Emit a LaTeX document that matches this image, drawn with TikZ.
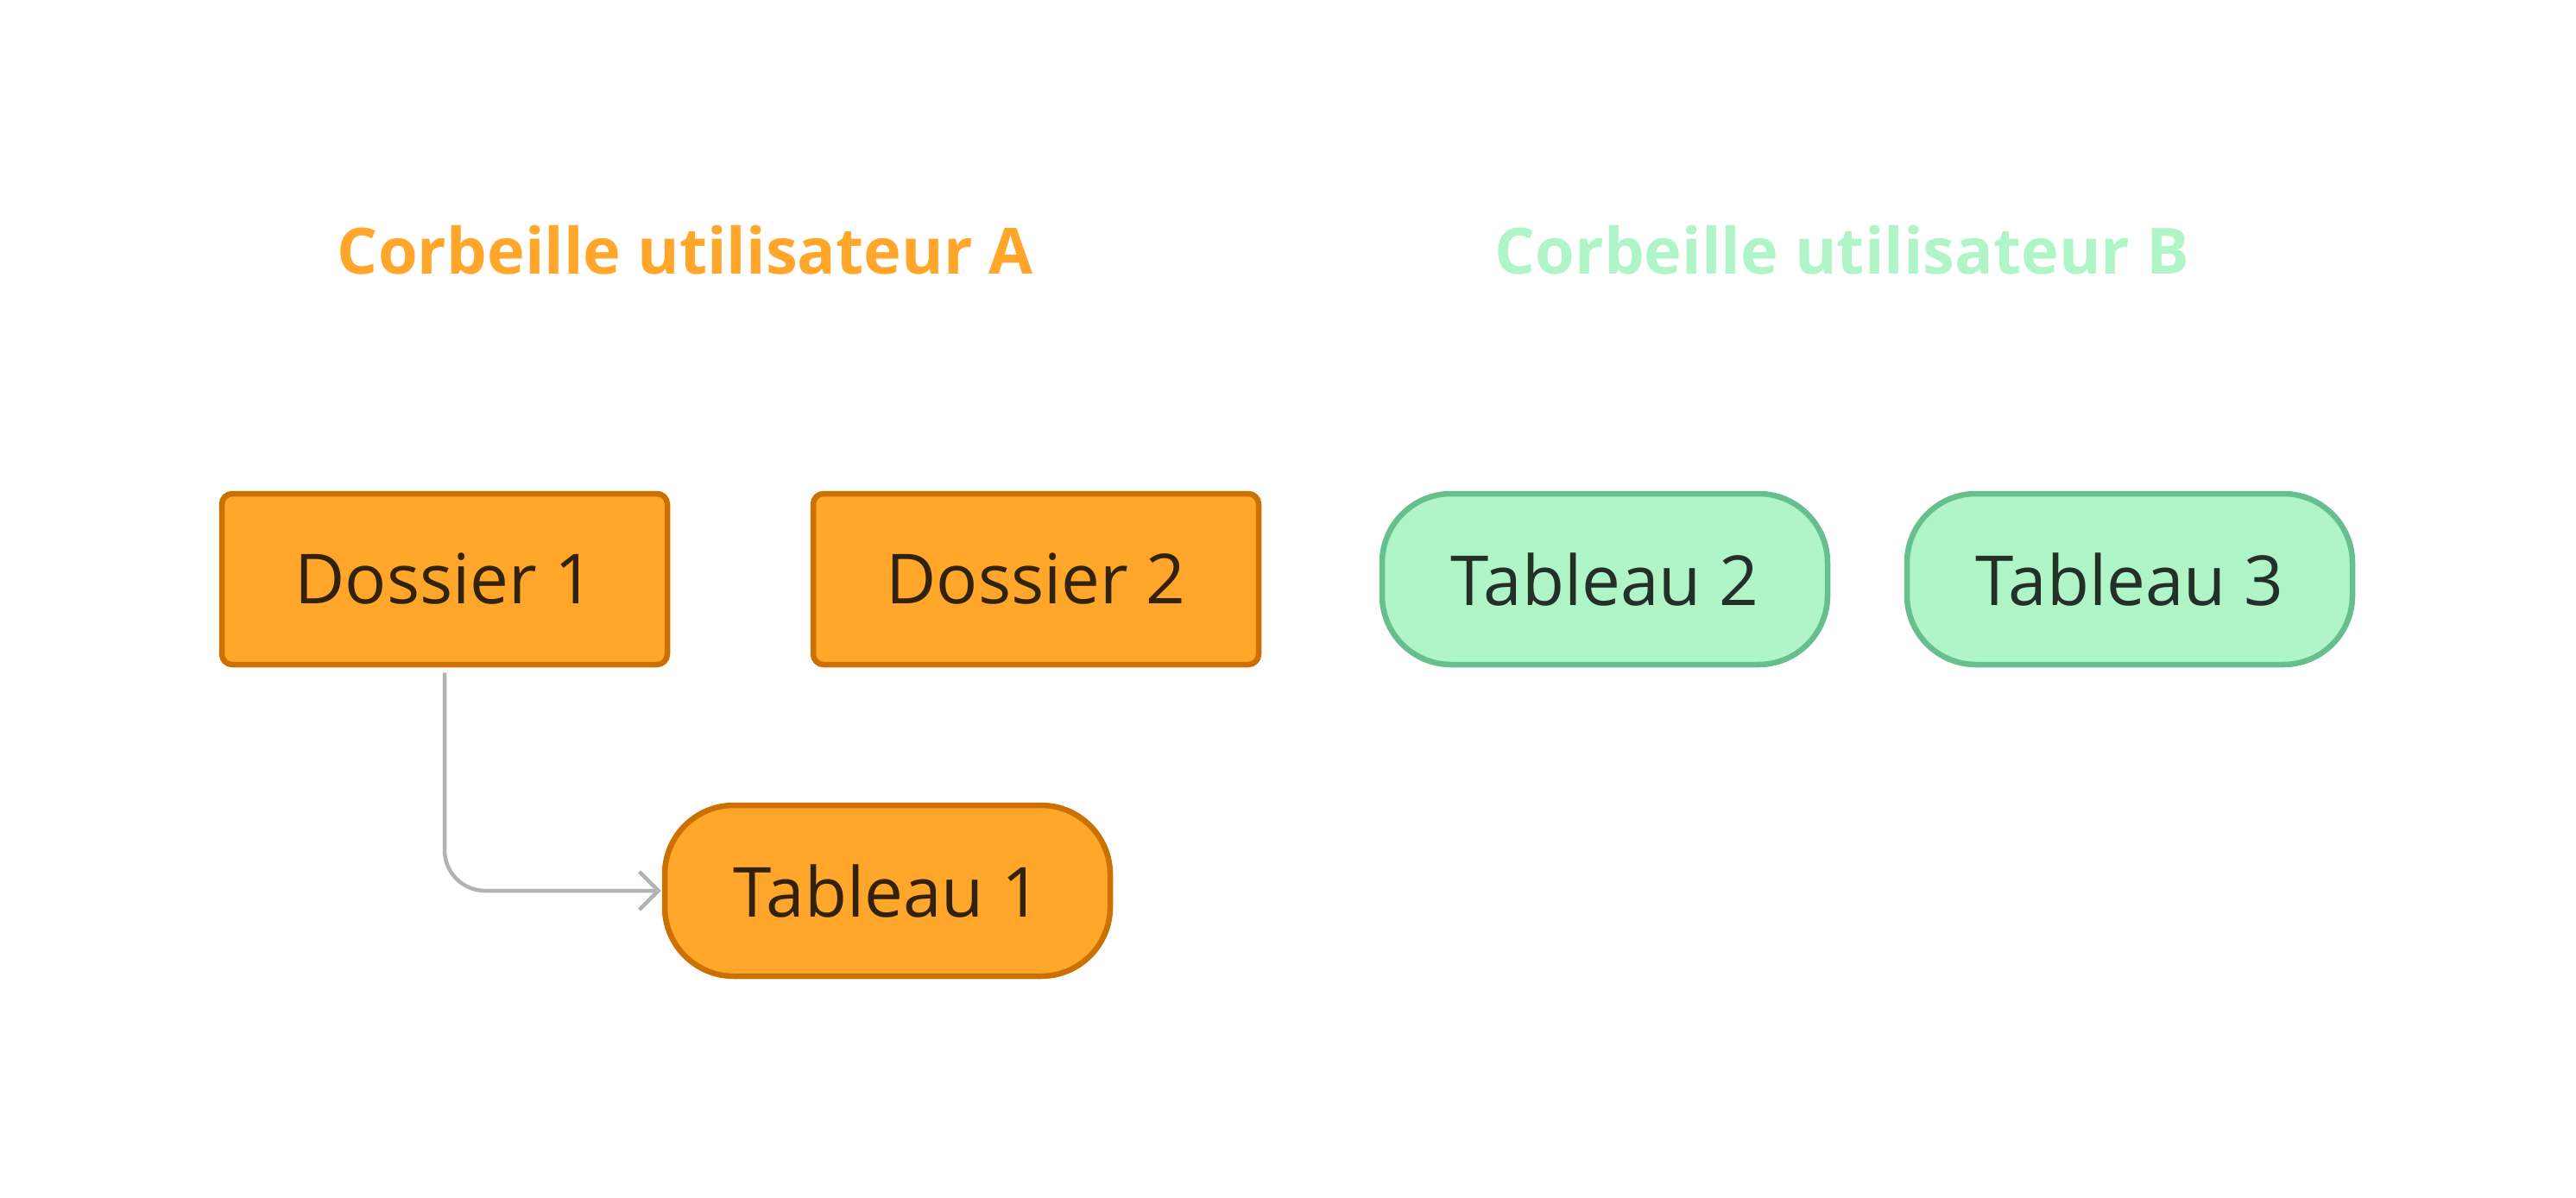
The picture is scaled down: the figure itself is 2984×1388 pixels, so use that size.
\documentclass[tikz,border=0pt]{standalone}
\usepackage{fontspec}
\setmainfont{Open Sans}
\usetikzlibrary{arrows.meta}
\definecolor{orfill}{HTML}{FFA62B}
\definecolor{ordraw}{HTML}{CC7000}
\definecolor{ortext}{HTML}{33220A}
\definecolor{grfill}{HTML}{AFF5C8}
\definecolor{grdraw}{HTML}{66BF8C}
\definecolor{grtext}{HTML}{243027}
\definecolor{edgegray}{HTML}{B3B3B3}
\tikzset{
  basebox/.style={minimum width=516pt, minimum height=198pt, line width=6.5pt, inner sep=0pt,
    font=\fontsize{80pt}{92pt}\selectfont},
  folderbox/.style={basebox, draw=ordraw, fill=orfill, text=ortext, rounded corners=12pt},
  orpill/.style={basebox, draw=ordraw, fill=orfill, text=ortext, rounded corners=80pt},
  grpill/.style={basebox, draw=grdraw, fill=grfill, text=grtext, rounded corners=80pt},
  titletext/.style={font=\fontsize{74pt}{86pt}\selectfont\bfseries, inner sep=0pt},
  edgeline/.style={draw=edgegray, line width=4.5pt, rounded corners=47pt,
    -{Straight Barb[length=22pt,width=44pt,line width=4.5pt]}, shorten <=6pt, shorten >=1pt}
}
\begin{document}
\begin{tikzpicture}[x=1pt,y=-1pt]
\useasboundingbox (0,0) rectangle (2984,1388);
\node[titletext, text=orfill] (ta) at (794,290) {Corbeille utilisateur A};
\node[titletext, text=grfill] (tb) at (2134,290) {Corbeille utilisateur B};
\node[folderbox] (d1) at (515,671) {Dossier 1};
\node[folderbox] (d2) at (1200,671) {Dossier 2};
\node[grpill] (t2) at (1859,671) {Tableau 2};
\node[grpill] (t3) at (2467,671) {Tableau 3};
\node[orpill] (t1) at (1028,1032) {Tableau 1};
\draw[edgeline] (d1.south) |- (t1.west);
\end{tikzpicture}
\end{document}
